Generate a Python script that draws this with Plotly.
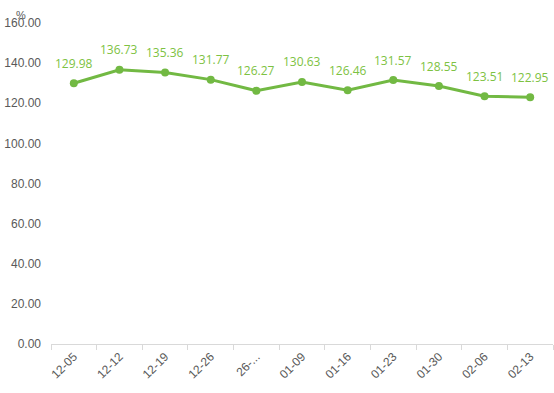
import plotly.graph_objects as go

categories = ["12-05", "12-12", "12-19", "12-26", "26-...", "01-09", "01-16", "01-23", "01-30", "02-06", "02-13"]
values = [129.98, 136.73, 135.36, 131.77, 126.27, 130.63, 126.46, 131.57, 128.55, 123.51, 122.95]
y_ticks = [0, 20, 40, 60, 80, 100, 120, 140, 160]

green = "#72B943"
label_green = "#7DC242"

fig = go.Figure()
fig.add_trace(go.Scatter(
    x=categories, y=values, mode="lines+markers",
    line=dict(color=green, width=3),
    marker=dict(color=green, size=8),
    hoverinfo="x+y",
))

for c, v in zip(categories, values):
    fig.add_annotation(x=c, y=v, text=f"{v:.2f}", showarrow=False, yshift=20,
                       font=dict(color=label_green, size=12, family="Open Sans, Liberation Sans, sans-serif"))

fig.add_annotation(xref="paper", yref="paper", x=-0.06, y=1.0, xanchor="center", yanchor="middle",
                   yshift=8, text="%", showarrow=False,
                   font=dict(color="#595959", size=11, family="Liberation Sans, sans-serif"))

fig.update_layout(
    width=554, height=393,
    margin=dict(l=51, r=1, t=23, b=49, autoexpand=False),
    paper_bgcolor="white", plot_bgcolor="white",
    showlegend=False,
    font=dict(family="Liberation Sans, Open Sans, sans-serif", color="#595959", size=12),
)
fig.update_xaxes(
    type="category", tickangle=-45, tickson="boundaries", ticks="outside", ticklen=5,
    tickcolor="#D9D9D9", showline=True, linecolor="#D9D9D9", linewidth=1, automargin=False,
    showgrid=False, tickfont=dict(size=12, color="#595959"), range=[-0.5, 10.5],
)
fig.update_yaxes(
    range=[0, 160], tickvals=y_ticks, tickformat=".2f", showgrid=False, zeroline=False,
    showline=False, ticks="", tickfont=dict(size=12, color="#595959"), ticklabelstandoff=9,
    automargin=False,
)

fig.write_html("out.html", config={"displayModeBar": False},
               post_script="document.body.style.margin='0px';document.body.style.overflow='hidden';")
